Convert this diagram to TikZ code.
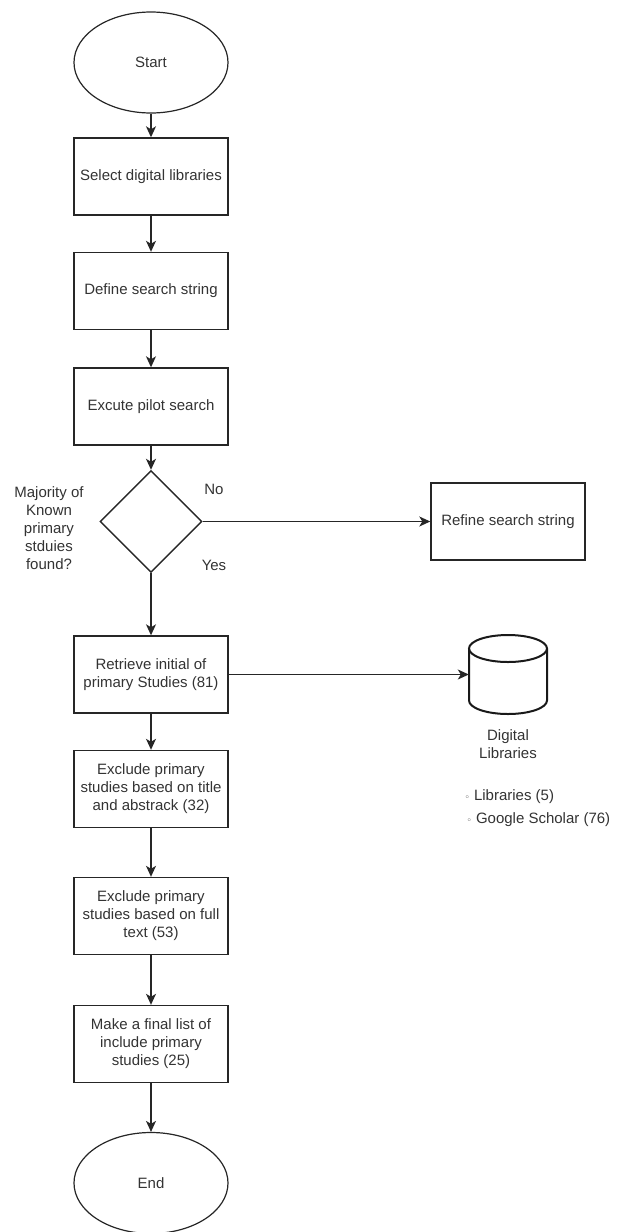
\documentclass[tikz,border=0pt]{standalone}
\usepackage{fontspec}
\setmainfont{Liberation Sans}
\newfontfamily\symfont{DejaVu Sans}
\usetikzlibrary{arrows.meta,shapes.geometric}

\begin{document}
\begin{tikzpicture}[x=1pt,y=-1pt,
  every node/.style={font=\fontsize{15}{18}\selectfont,text=black!80},
  procbox/.style={draw=black!85,line width=1.4pt,minimum width=154pt,minimum height=77pt,inner sep=2pt,align=center},
  terminal/.style={draw=black!85,line width=1.2pt,ellipse,minimum width=154pt,minimum height=101pt},
  decision/.style={draw=black!85,line width=1.4pt,diamond,minimum width=102pt,minimum height=102pt,inner sep=0pt},
  flow/.style={draw=black!85,line width=1.4pt,-{Stealth[length=11pt,width=10pt,inset=3pt]}},
  cyl/.style={draw=black!90,line width=2pt}]
 \useasboundingbox (0,0) rectangle (622,1232);
 % main column
 \node[terminal] (start) at (151,62.5) {Start};
 \node[procbox] (select) at (151,176.5) {Select digital libraries};
 \node[procbox] (define) at (151,291) {Define search string};
 \node[procbox] (pilot) at (151,406.5) {Excute pilot search};
 \node[decision] (known) at (151,521.5) {};
 \node[procbox] (retrieve) at (151,674.5) {Retrieve initial of\\primary Studies (81)};
 \node[procbox] (abstrack) at (151,789) {Exclude primary\\studies based on title\\and abstrack (32)};
 \node[procbox] (fulltext) at (151,916) {Exclude primary\\studies based on full\\text (53)};
 \node[procbox] (final) at (151,1044) {Make a final list of\\include primary\\studies (25)};
 \node[terminal] (stop) at (151,1183) {End};
 % decision labels
 \node[align=center] (question) at (49,528) {Majority of\\Known\\primary\\stduies\\found?};
 \node (no) at (214,489) {No};
 \node (yes) at (214,565) {Yes};
 % right side
 \node[procbox] (refine) at (508,521.5) {Refine search string};
 \node[minimum width=78pt,minimum height=78pt,inner sep=0pt] (dl) at (508,674.5) {};
 \draw[cyl] (469,648.5) -- (469,700.5) arc[start angle=180,end angle=360,x radius=39pt,y radius=13.5pt] -- (547,648.5);
 \draw[cyl] (508,648.5) ellipse[x radius=39pt,y radius=13.5pt];
 \node[align=center] (dllabel) at (508,744.5) {Digital\\Libraries};
 \node[anchor=west] (libs) at (461,797) {{\symfont\small ◦} Libraries (5)};
 \node[anchor=west] (scholar) at (463,820) {{\symfont\small ◦} Google Scholar (76)};
 % connectors
 \foreach \a/\b in {start/select, select/define, define/pilot, pilot/known, known/retrieve,
                    retrieve/abstrack, abstrack/fulltext, fulltext/final, final/stop}
 {
   \draw[flow] (\a) -- (\b);
 }
 \draw[flow] (known) -- (refine);
 \draw[flow] (retrieve) -- (dl);
\end{tikzpicture}
\end{document}
